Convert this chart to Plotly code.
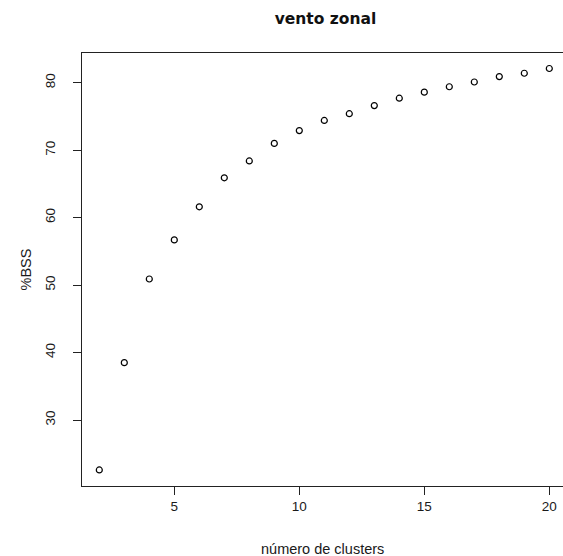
import plotly.graph_objects as go

# number of clusters vs. percentage of between-cluster sum of squares
n_clusters = list(range(2, 21))
bss_pct = [22.6, 38.5, 50.9, 56.7, 61.6, 65.9, 68.4, 71.0, 72.9, 74.4,
           75.4, 76.6, 77.7, 78.6, 79.4, 80.1, 80.9, 81.4, 82.1]
x_ticks = [5, 10, 15, 20]
y_ticks = [30, 40, 50, 60, 70, 80]

FONT = "Liberation Sans, Arial, sans-serif"
INK = "#1a1a1a"

fig = go.Figure(
    go.Scatter(
        x=n_clusters,
        y=bss_pct,
        mode="markers",
        marker=dict(symbol="circle-open", size=6, color="black",
                    line=dict(width=1.2, color="black")),
        hoverinfo="x+y",
    )
)

fig.update_layout(
    width=563,
    height=556,
    margin=dict(l=82, r=0, t=53, b=70),
    paper_bgcolor="white",
    plot_bgcolor="white",
    showlegend=False,
    font=dict(family=FONT, size=13, color=INK),
    title=dict(text="<b>vento zonal</b>", x=325.5 / 563, xanchor="center",
               y=1 - 18.5 / 556, yanchor="middle", yref="container",
               xref="container",
               font=dict(family="DejaVu Sans, Verdana, sans-serif",
                         size=15.5, color="#111")),
    annotations=[
        dict(text="número de clusters", xref="paper", yref="paper",
             x=(322 - 82) / 481, y=-(549 - 486) / 433, xanchor="center",
             yanchor="middle", showarrow=False, font=dict(size=14.5, color=INK)),
        dict(text="%BSS", xref="paper", yref="paper",
             x=-(82 - 25) / 481, y=0.5, xanchor="center", yanchor="middle",
             textangle=-90, showarrow=False, font=dict(size=14.5, color=INK)),
    ],
)

fig.update_xaxes(
    range=[1.308, 20.548],
    tickmode="array", tickvals=x_ticks, ticktext=[str(v) for v in x_ticks],
    ticks="outside", ticklen=8, tickwidth=1, tickcolor="#222",
    showline=True, linecolor="#222", linewidth=1.2, mirror=True,
    showgrid=False, zeroline=False,
    tickfont=dict(size=13.5, color=INK),
)
fig.update_yaxes(
    range=[20.22, 84.4],
    tickmode="array", tickvals=y_ticks, ticktext=[str(v) for v in y_ticks],
    ticks="outside", ticklen=8, tickwidth=1, tickcolor="#222",
    showline=True, linecolor="#222", linewidth=1.2, mirror=False,
    showgrid=False, zeroline=False, tickangle=-90, ticklabelstandoff=13,
    tickfont=dict(size=13.5, color=INK),
)

fig.write_html("out.html")
